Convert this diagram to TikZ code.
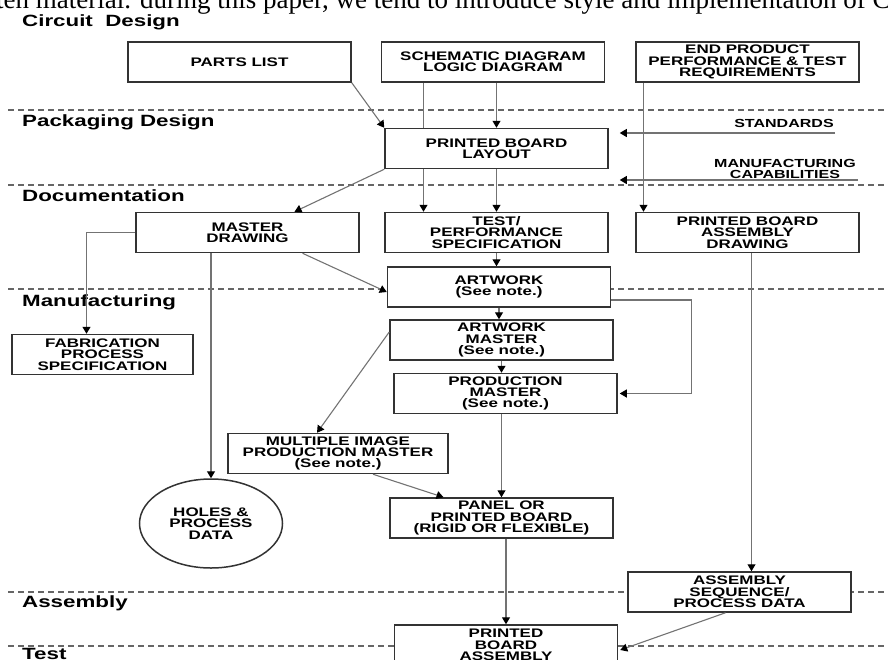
\documentclass[tikz,border=0pt]{standalone}
\usepackage{fontspec}
\setmainfont{Liberation Serif}
\newfontfamily\flowfont[FakeStretch=1.37]{Liberation Sans}
\usetikzlibrary{arrows.meta,shapes.geometric}
\tikzset{
  stepbox/.style={draw=black!80, line width=1.5pt, fill=white, minimum width=223pt, minimum height=40pt,
    align=center, inner sep=1pt, font=\flowfont\bfseries\fontsize{12.4}{11.4}\selectfont},
  phase/.style={anchor=base west, inner sep=0pt, font=\flowfont\bfseries\fontsize{16.3}{18}\selectfont},
  sidenote/.style={align=center, inner sep=0pt, font=\flowfont\bfseries\fontsize{11.7}{11.4}\selectfont},
  link/.style={draw=black!55, line width=1.1pt},
  conn/.style={link, -{Triangle[length=7pt,width=8pt,color=black]}},
  divider/.style={draw=black!60, line width=1.2pt, dash pattern=on 6pt off 4pt},
}
\begin{document}
\begin{tikzpicture}[x=1pt, y=-1pt]
\useasboundingbox (0,0) rectangle (888,659);
% page text above the figure
\node[anchor=base west, inner sep=0pt, font=\fontsize{27}{27}\selectfont] (pagetext) at (-4,8.5)
  {ten material. during this paper, we tend to introduce style and implementation of C};
% phase dividers
\draw[divider] (8,110) -- (890,110);
\draw[divider] (8,185) -- (890,185);
\draw[divider] (8,289) -- (890,289);
\draw[divider] (8,592) -- (890,592);
\draw[divider] (8,646) -- (890,646);
% phase labels
\node[phase] (circuit) at (22,26) {Circuit\ \ Design};
\node[phase] (packaging) at (22,126.7) {Packaging Design};
\node[phase] (documentation) at (22,201) {Documentation};
\node[phase] (manufacturing) at (22,306.5) {Manufacturing};
\node[phase] (assembly) at (22,607.7) {Assembly};
\node[phase] (testphase) at (22,659.3) {Test};
% nodes
\node[stepbox] (parts) at (239.5,62) {PARTS LIST};
\node[stepbox] (schem) at (493,62) {SCHEMATIC DIAGRAM\\LOGIC DIAGRAM};
\node[stepbox] (endprod) at (747.5,62) {END PRODUCT\\PERFORMANCE \& TEST\\REQUIREMENTS};
\node[stepbox] (layout) at (496.5,148.5) {PRINTED BOARD\\LAYOUT};
\node[sidenote] (stdlbl) at (784,123) {STANDARDS};
\node[sidenote] (mfglbl) at (785,169) {MANUFACTURING\\CAPABILITIES};
\coordinate (stdin) at (835,133);
\coordinate (mfgin) at (858,180);
\node[stepbox] (master) at (247.5,232.5) {MASTER\\DRAWING};
\node[stepbox] (testperf) at (496.5,232.5) {TEST/\\PERFORMANCE\\SPECIFICATION};
\node[stepbox] (pbadraw) at (747.5,232.5) {PRINTED BOARD\\ASSEMBLY\\DRAWING};
\node[stepbox] (artwork) at (499,287) {ARTWORK\\(See note.)};
\node[stepbox] (artmaster) at (501.5,340) {ARTWORK\\MASTER\\(See note.)};
\node[stepbox] (prodmaster) at (505.5,393.5) {PRODUCTION\\MASTER\\(See note.)};
\node[stepbox, minimum width=181pt] (fab) at (102.5,354.5) {FABRICATION\\PROCESS\\SPECIFICATION};
\node[stepbox, minimum width=220pt] (multi) at (338,453.5) {MULTIPLE IMAGE\\PRODUCTION MASTER\\(See note.)};
\node[stepbox, ellipse, minimum width=143pt, minimum height=89pt] (holes) at (211,523.5) {HOLES \&\\PROCESS\\DATA};
\node[stepbox] (panel) at (501.5,518) {PANEL OR\\PRINTED BOARD\\(RIGID OR FLEXIBLE)};
\node[stepbox] (asmseq) at (739.5,592) {ASSEMBLY\\SEQUENCE/\\PROCESS DATA};
\node[stepbox] (pba) at (506,645) {PRINTED\\BOARD\\ASSEMBLY};
% arrows
\draw[conn] (parts.south east) -- (layout.north west);
\draw[link] ([xshift=-73pt]layout.north |- schem.south) -- ([xshift=-73pt]layout.north);
\draw[conn] ([xshift=-73pt]layout.south) -- ([xshift=-73pt]testperf.north);
\draw[conn] (layout.north |- schem.south) -- (layout.north);
\draw[conn] (stdin) -- ([xshift=11pt]layout.east |- stdin);
\draw[conn] (mfgin) -- ([xshift=11pt]layout.east |- mfgin);
\draw[conn] ([xshift=-104pt]endprod.south) -- ([xshift=-104pt]pbadraw.north);
\draw[conn] (layout.south) -- (testperf.north);
\draw[conn] (layout.south west) -- ([xshift=47pt]master.north);
\draw[conn] (master.west) -| ([xshift=-16pt]fab.north);
\draw[conn] (master.south -| holes.north) -- (holes.north);
\draw[conn] ([xshift=55pt]master.south) -- ([yshift=-5pt]artwork.west);
\draw[conn] (testperf.south) -- (testperf.south |- artwork.north);
\draw[conn] (artwork.south) -- (artwork.south |- artmaster.north);
\draw[conn] ([yshift=-13pt]artwork.east) -- ++(80,0) |- ([xshift=2pt]prodmaster.east);
\draw[conn] (artmaster.south) -- (artmaster.south |- prodmaster.north);
\draw[conn] ([yshift=8pt]artmaster.west) -- ([xshift=-21pt]multi.north);
\draw[conn] (panel.north |- prodmaster.south) -- (panel.north);
\draw[conn] ([xshift=35pt]multi.south) -- ([xshift=-58pt]panel.north);
\draw[conn] ([xshift=12pt]asmseq.north |- pbadraw.south) -- ([xshift=12pt]asmseq.north);
\draw[conn] (pba.north |- panel.south) -- (pba.north);
\draw[conn] ([xshift=-14pt]asmseq.south) -- ([yshift=-5pt,xshift=2pt]pba.east);
\end{tikzpicture}
\end{document}
